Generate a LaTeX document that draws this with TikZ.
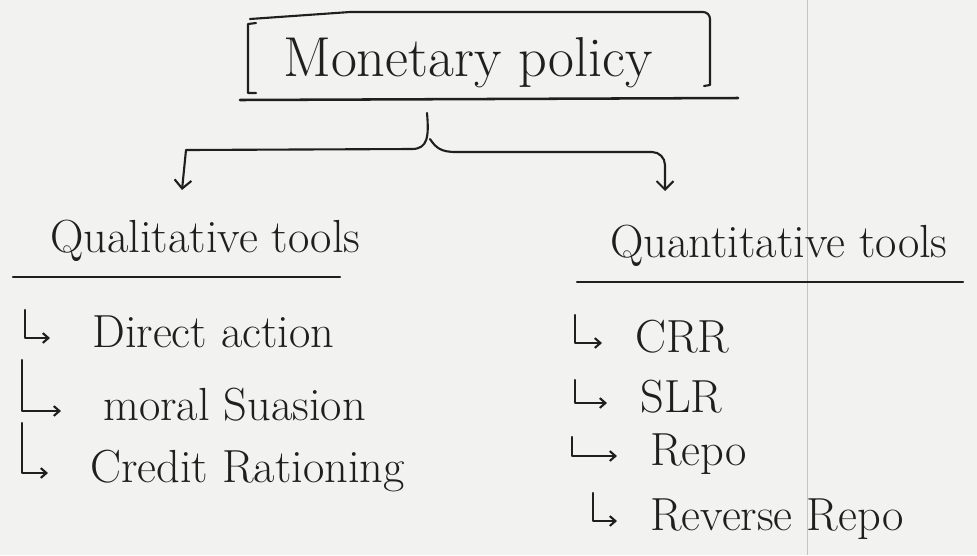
\documentclass[tikz,border=0pt]{standalone}
\usetikzlibrary{arrows.meta,calc,positioning}
\definecolor{Ink}{HTML}{1F1F1F}
\definecolor{Paper}{HTML}{F2F2F0}
\definecolor{Fold}{HTML}{C4C4C4}

\begin{document}
\begin{tikzpicture}[x=0.025cm,y=-0.025cm,
    pen/.style={draw=Ink,line width=1.5pt,line cap=round,line join=round},
    hook/.style={pen,-{Straight Barb[length=4pt,width=7pt]}},
    branch/.style={pen,-{Straight Barb[length=6pt,width=12pt]}},
    heading/.style={text=Ink,font=\fontsize{40}{44}\selectfont,inner sep=0pt,anchor=base west},
    group/.style={text=Ink,font=\fontsize{33}{36}\selectfont,inner sep=0pt,anchor=base west},
    item/.style={text=Ink,font=\fontsize{33}{36}\selectfont,inner sep=0pt,anchor=base west}]
  \fill[Paper] (0,0) rectangle (977,555);
  \useasboundingbox (0,0) rectangle (977,555);
  % crease of the scanned page
  \draw[Fold,line width=0.6pt] (807,0) -- (807,555);
  \node[heading] (policy) at (283,76) {Monetary policy};
  \draw[pen] (256,23) -- (248,24) -- (248,93) -- (256,93);
  \draw[pen] (250,19) -- (350,12) -- (703,12) to[out=0,in=90] (710,19) -- (710,85) -- (704,86);
  \draw[pen,line width=1.8pt] (240,100) -- (738,98);
  \coordinate (split) at (427,113);
  \coordinate (qualin) at (182,190);
  \coordinate (quantin) at (665,191);
  \draw[branch] (split) .. controls (429,136) and (428,149) .. (412,149) -- (186,150) -- (qualin);
  \draw[branch] ($(split)+(3,26)$) .. controls (436,148) and (441,152) .. (456,152)
    -- (652,152) to[out=0,in=90] (665,165) -- (quantin);
  \node[group] (qual) at (50,252) {Qualitative tools};
  \node[group] (quant) at (610,257) {Quantitative tools};
  \draw[pen] ($(qual.base west)+(-37,25)$) -- ($(qual.base west)+(290,25)$);
  \draw[pen] ($(quant.base west)+(-33,25)$) -- ($(quant.base west)+(353,25)$);
  \foreach \i/\mx/\top/\x/\y/\txt in {1/25/310/92/347/Direct action,
      2/22/360/103/420/moral Suasion,3/22/423/90/482/Credit Rationing}{%
    \node[item] (qual\i) at (\x,\y) {\txt};
    \coordinate (qualmark\i) at (\mx,\top);
    \draw[hook] (qualmark\i) |- ($(qual\i.base west)+(-42,-9)$);
  }
  \foreach \i/\mx/\top/\x/\y/\txt in {1/575/315/635/352/CRR,2/575/380/640/412/SLR,
      3/572/437/650/465/Repo,4/593/493/650/530/Reverse Repo}{%
    \node[item] (quant\i) at (\x,\y) {\txt};
    \coordinate (quantmark\i) at (\mx,\top);
    \draw[hook] (quantmark\i) |- ($(quant\i.base west)+(-33,-9)$);
  }
\end{tikzpicture}
\end{document}
